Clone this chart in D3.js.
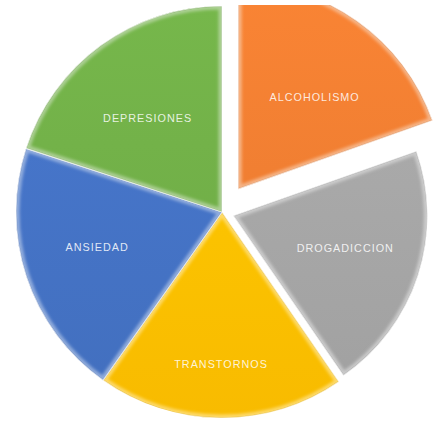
<!DOCTYPE html>
<html>
<head>
<meta charset="utf-8">
<script src="https://cdn.jsdelivr.net/npm/d3@7"></script>
<style>
  html, body { margin: 0; padding: 0; background: #fff; }
  svg { display: block; }
</style>
</head>
<body>
<script>
// Problems covered, roughly equal shares
const categories = ["ALCOHOLISMO", "DROGADICCION", "TRANSTORNOS", "ANSIEDAD", "DEPRESIONES"];
const values = [19.6, 20.8, 19.4, 20.2, 20.0];
const colors = ["#ED7D31", "#A5A5A5", "#FFC000", "#4472C4", "#70AD47"];

// Layout: how far each slice is pulled out, how much it shrinks, and where its label sits
const explode = [28, 12, 0, 0, 0];
const shrink = [0, 12, 0, 0, 0];
const labelRadius = [0.58, 0.565, 0.74, 0.63, 0.58];
const labelTurn = [4.5, -2, 0, 2.5, -2.5];

const W = 435, H = 425;
const cx = 222, cy = 212, R = 206;
const plotTop = 5;

const svg = d3.select("body").append("svg")
  .attr("width", W).attr("height", H);

const defs = svg.append("defs");
defs.append("filter").attr("id", "soft")
  .attr("x", "-10%").attr("y", "-10%").attr("width", "120%").attr("height", "120%")
  .append("feGaussianBlur").attr("stdDeviation", 1.6);

// Plot area clip
defs.append("clipPath").attr("id", "plotArea")
  .append("rect").attr("x", 0).attr("y", plotTop).attr("width", W).attr("height", H - plotTop);

const pie = d3.pie().sort(null).value(d => d.value);
const arcFor = i => d3.arc().innerRadius(0).outerRadius(R - shrink[i]);

const data = categories.map((c, i) => ({ name: c, value: values[i], color: colors[i], i }));
const arcs = pie(data);

const root = svg.append("g").attr("clip-path", "url(#plotArea)")
  .append("g").attr("transform", `translate(${cx},${cy})`);

const slices = root.selectAll("g.slice").data(arcs).join("g")
  .attr("class", "slice")
  .attr("transform", d => {
    const a = (d.startAngle + d.endAngle) / 2;
    const off = explode[d.data.i];
    return `translate(${off * Math.sin(a)},${-off * Math.cos(a)})`;
  });

slices.each(function(d) {
  const g = d3.select(this);
  const i = d.data.i;
  const arc = arcFor(i);
  const path = arc(d);
  const id = "clip" + i;
  defs.append("clipPath").attr("id", id).append("path").attr("d", path);

  const base = d3.color(d.data.color);
  const light = d3.interpolateRgb(d.data.color, "#ffffff")(0.55);

  // Gradient: a touch lighter towards the top
  const gid = "grad" + i;
  const grad = defs.append("linearGradient").attr("id", gid)
    .attr("gradientUnits", "userSpaceOnUse")
    .attr("x1", 0).attr("y1", -R).attr("x2", 0).attr("y2", R);
  grad.append("stop").attr("offset", "0%").attr("stop-color", base.brighter(0.15));
  grad.append("stop").attr("offset", "100%").attr("stop-color", base.darker(0.08));

  g.append("path").attr("d", path).attr("fill", `url(#${gid})`);

  // Bevel highlight running just inside the rim and edges
  const inner = g.append("g").attr("clip-path", `url(#${id})`);
  inner.append("path").attr("d", path)
    .attr("fill", "none")
    .attr("stroke", light)
    .attr("stroke-width", 7)
    .attr("stroke-opacity", 0.75)
    .attr("filter", "url(#soft)");
  inner.append("path").attr("d", path)
    .attr("fill", "none")
    .attr("stroke", base.darker(0.6))
    .attr("stroke-width", 1.6)
    .attr("stroke-opacity", 0.5);

  g.append("path").attr("d", path)
    .attr("fill", "none")
    .attr("stroke", "#ffffff")
    .attr("stroke-width", 1.2)
    .attr("stroke-opacity", 0.7)
    .attr("stroke-linejoin", "round");
});

// Category labels
slices.append("text")
  .attr("transform", d => {
    const a = (d.startAngle + d.endAngle) / 2 + labelTurn[d.data.i] * Math.PI / 180;
    const r = R * labelRadius[d.data.i];
    return `translate(${r * Math.sin(a)},${-r * Math.cos(a)})`;
  })
  .attr("text-anchor", "middle")
  .attr("dy", "0.36em")
  .attr("font-family", "'Liberation Sans', Arial, sans-serif")
  .attr("font-size", 10.8)
  .attr("letter-spacing", 1)
  .attr("fill", "#ffffff")
  .attr("fill-opacity", 0.85)
  .text(d => d.data.name);
</script>
</body>
</html>
